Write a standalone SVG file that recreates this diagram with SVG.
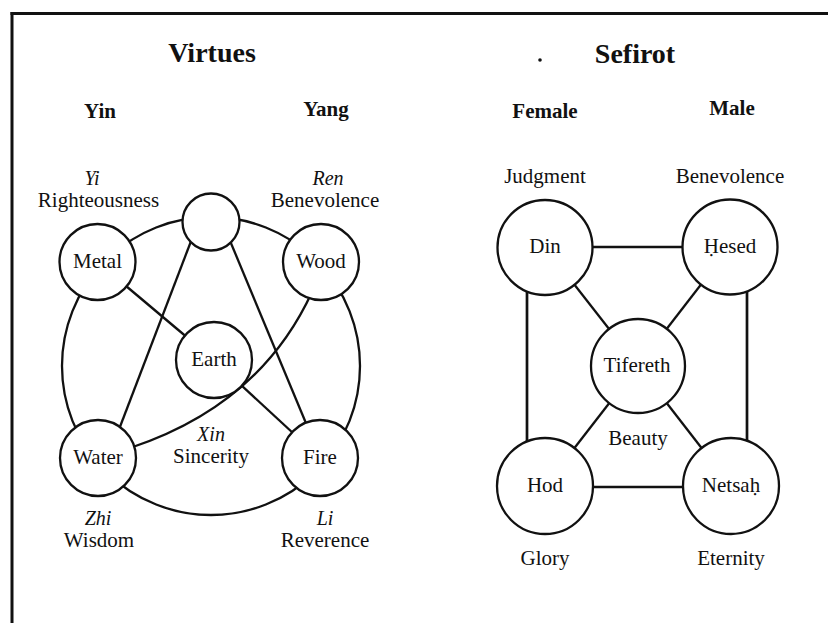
<svg xmlns="http://www.w3.org/2000/svg" width="828" height="623" viewBox="0 0 828 623">
<style>
  .bg { fill: #ffffff; }
  .frame { stroke: #111; stroke-width: 3; fill: none; }
  .edge { stroke: #111; stroke-width: 2.3; fill: none; }
  .thick { stroke: #111; stroke-width: 2.7; fill: none; }
  .node { fill: #ffffff; stroke: #111; stroke-width: 2.3; }
  text { font-family: "Liberation Serif", "Times New Roman", serif; fill: #111; text-anchor: middle; }
  .title { font-size: 28px; font-weight: bold; }
  .sub { font-size: 21px; font-weight: bold; }
  .lbl { font-size: 21px; }
  .pair { font-size: 20px; }
  .it { font-size: 20px; font-style: italic; }
</style>
<rect class="bg" x="0" y="0" width="828" height="623"/>
<g id="frame">
  <line class="frame" x1="12" y1="12" x2="12" y2="623"/>
  <line class="frame" x1="10.5" y1="13.5" x2="828" y2="13.5"/>
</g>

<g id="headings">
  <text class="title" x="212" y="62">Virtues</text>
  <text class="title" x="635" y="63">Sefirot</text>
  <circle cx="540" cy="60" r="1.8" fill="#111"/>
  <text class="sub" x="100" y="118">Yin</text>
  <text class="sub" x="326" y="116">Yang</text>
  <text class="sub" x="545" y="118">Female</text>
  <text class="sub" x="732" y="115">Male</text>
</g>

<g id="connectors">
  <!-- Five phases ring -->
  <circle class="edge" cx="211" cy="366" r="149"/>
  <line class="edge" x1="193" y1="236" x2="118" y2="432"/>
  <line class="edge" x1="228" y1="236" x2="308" y2="428"/>
  <line class="edge" x1="97.5" y1="262" x2="214" y2="360"/>
  <line class="edge" x1="214" y1="360" x2="320" y2="458"/>
  <path class="edge" d="M 312 292 Q 260 405 130 448"/>
  <!-- Sefirot -->
  <line class="edge" x1="545" y1="247" x2="730" y2="247"/>
  <line class="edge" x1="545" y1="247" x2="638" y2="366"/>
  <line class="edge" x1="730" y1="247" x2="638" y2="366"/>
  <line class="edge" x1="638" y1="366" x2="545" y2="486"/>
  <line class="edge" x1="638" y1="366" x2="731" y2="486"/>
  <line class="edge" x1="545" y1="487" x2="731" y2="487"/>
  <line class="thick" x1="527" y1="280" x2="527" y2="450"/>
  <line class="thick" x1="747" y1="280" x2="747" y2="450"/>
</g>

<g id="node-top"><circle class="node" cx="211" cy="222" r="28.5"/></g>
<g id="node-metal"><circle class="node" cx="97.5" cy="262" r="38"/><text class="lbl" x="97.5" y="268">Metal</text></g>
<g id="node-wood"><circle class="node" cx="321" cy="262" r="38"/><text class="lbl" x="321" y="268">Wood</text></g>
<g id="node-earth"><circle class="node" cx="214" cy="360" r="38"/><text class="lbl" x="214" y="366">Earth</text></g>
<g id="node-water"><circle class="node" cx="98" cy="458" r="38"/><text class="lbl" x="98" y="464">Water</text></g>
<g id="node-fire"><circle class="node" cx="320" cy="458" r="38"/><text class="lbl" x="320" y="464">Fire</text></g>

<g id="virtue-labels">
  <text class="it" x="92" y="185">Yi</text>
  <text class="lbl" x="98.5" y="207">Righteousness</text>
  <text class="it" x="328" y="185">Ren</text>
  <text class="lbl" x="325" y="207">Benevolence</text>
  <text class="it" x="211" y="441">Xin</text>
  <text class="lbl" x="211" y="463">Sincerity</text>
  <text class="it" x="98" y="525">Zhi</text>
  <text class="lbl" x="99" y="547">Wisdom</text>
  <text class="it" x="325" y="525">Li</text>
  <text class="lbl" x="325" y="547">Reverence</text>
</g>

<g id="node-din"><circle class="node" cx="545" cy="247.5" r="47.5"/><text class="lbl" x="545" y="253">Din</text></g>
<g id="node-hesed"><circle class="node" cx="730" cy="247" r="47.5"/><text class="lbl" x="730" y="253">Ḥesed</text></g>
<g id="node-tifereth"><circle class="node" cx="638" cy="366" r="47"/><text class="lbl" x="637" y="372">Tifereth</text></g>
<g id="node-hod"><circle class="node" cx="545" cy="486" r="48"/><text class="lbl" x="545" y="492">Hod</text></g>
<g id="node-netsah"><circle class="node" cx="731" cy="486" r="48"/><text class="lbl" x="731" y="492">Netsaḥ</text></g>

<g id="sefirot-labels">
  <text class="lbl" x="545" y="183">Judgment</text>
  <text class="lbl" x="730" y="183">Benevolence</text>
  <text class="lbl" x="638" y="445">Beauty</text>
  <text class="lbl" x="545" y="565">Glory</text>
  <text class="lbl" x="731" y="565">Eternity</text>
</g>
</svg>
